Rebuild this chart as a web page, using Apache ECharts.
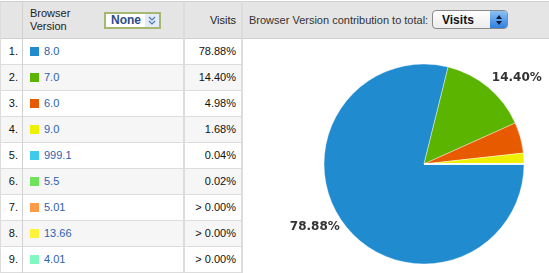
<!DOCTYPE html>
<html>
<head>
<meta charset="utf-8">
<script src="https://cdn.jsdelivr.net/npm/echarts@6/dist/echarts.min.js"></script>
<style>
  html, body { margin: 0; padding: 0; background: #fff; }
  body { width: 549px; height: 273px; position: relative; overflow: hidden;
         font-family: "Liberation Sans", Arial, sans-serif; font-size: 11px; color: #222; }
  .abs { position: absolute; }
  .hline { position: absolute; height: 1px; background: #dcdcdc; }
  .vline { position: absolute; width: 2px; background: #dcdcdc; }
  .cell { position: absolute; line-height: 25px; white-space: nowrap; }
</style>
</head>
<body>
<div id="table"></div>
<div id="pie" class="abs" style="left:245px;top:40px;width:304px;height:233px;"></div>
<script>
// chart data
var versions = ['8.0', '7.0', '6.0', '9.0', '999.1', '5.5', '5.01', '13.66', '4.01'];
var visitShare = [78.88, 14.40, 4.98, 1.68, 0.04, 0.02, 0.001, 0.001, 0.001];
var sliceColors = ['#208bcf', '#5ab400', '#e85a00', '#eef000', '#3ecbea', '#6de25a', '#ff9a46', '#fff23c', '#7ff8c2'];

function pctText(v) {
    return v < 0.005 ? '> 0.00%' : v.toFixed(2) + '%';
}

// table drawn in html around the chart
var html = '';
// header background
html += '<div class="abs" style="left:0;top:1px;width:549px;height:38px;background:#e5e5e5;border-top:1px solid #cfcfcf;border-bottom:1px solid #cfcfcf;box-sizing:border-box;"></div>';
html += '<div class="abs" style="left:30px;top:7px;line-height:13px;color:#222;">Browser<br>Version</div>';
html += '<div class="abs" style="left:104px;top:12px;width:57px;height:17px;border:2px solid #a4b871;box-sizing:border-box;background:#fff;">' +
        '<span class="abs" style="left:5px;top:0;line-height:13px;font-weight:bold;font-size:12px;color:#2a4d8a;">None</span>' +
        '<span class="abs" style="left:39px;top:0;width:14px;height:13px;background:#e3ebf6;">' +
        '<svg width="14" height="13"><polyline points="4,3 7,6 10,3" fill="none" stroke="#4a78b8" stroke-width="1.2"/><polyline points="4,7 7,10 10,7" fill="none" stroke="#4a78b8" stroke-width="1.2"/></svg></span></div>';
html += '<div class="abs" style="right:313px;top:14px;line-height:13px;">Visits</div>';
html += '<div class="abs" style="left:249px;top:14px;line-height:13px;color:#333;">Browser Version contribution to total:</div>';
html += '<div class="abs" style="left:432px;top:10px;width:76px;height:19px;border:1px solid #8a8a8a;border-radius:4px;box-sizing:border-box;background:linear-gradient(#ffffff,#ececec);overflow:hidden;">' +
        '<span class="abs" style="left:9px;top:2px;line-height:14px;font-size:12px;font-weight:bold;color:#111;">Visits</span>' +
        '<span class="abs" style="left:57px;top:0;width:18px;height:17px;background:linear-gradient(#8cc0f4,#2f7fe0);"></span>' +
        '<svg class="abs" style="left:60px;top:2px;" width="12" height="14"><polygon points="6,2 9,6 3,6" fill="#0b1f3d"/><polygon points="6,12 9,8 3,8" fill="#0b1f3d"/></svg></div>';

for (var i = 0; i < versions.length; i++) {
    var rowTop = 39 + i * 26;
    if (i % 2 === 1) {
        html += '<div class="abs" style="left:1px;top:' + rowTop + 'px;width:240px;height:25px;background:#f6f6f6;"></div>';
    }
    html += '<div class="cell" style="left:0;width:18px;text-align:right;top:' + rowTop + 'px;color:#111;">' + (i + 1) + '.</div>';
    html += '<div class="abs" style="left:30px;top:' + (rowTop + 8) + 'px;width:9px;height:9px;background:' + sliceColors[i] + ';"></div>';
    html += '<div class="cell" style="left:44px;top:' + rowTop + 'px;color:#2b62b0;">' + versions[i] + '</div>';
    html += '<div class="cell" style="right:313px;top:' + rowTop + 'px;color:#111;">' + pctText(visitShare[i]) + '</div>';
    html += '<div class="hline" style="left:1px;width:241px;top:' + (rowTop + 25) + 'px;"></div>';
}

// left border and column dividers
html += '<div class="abs" style="left:0;top:1px;width:1px;height:272px;background:#dcdcdc;"></div>';
html += '<div class="abs" style="left:22px;top:1px;width:1px;height:272px;background:#d2d2d2;"></div>';
html += '<div class="vline" style="left:183px;top:1px;height:272px;"></div>';
html += '<div class="vline" style="left:241px;top:1px;height:272px;"></div>';
document.getElementById('table').innerHTML = html;

var pieData = [];
for (var j = 0; j < versions.length; j++) {
    pieData.push({ name: versions[j], value: visitShare[j] });
}

var myChart = echarts.init(document.getElementById('pie'));
myChart.setOption({
    animation: false,
    color: sliceColors,
    series: [{
        type: 'pie',
        center: [179, 124],
        radius: 100,
        startAngle: 0,
        clockwise: true,
        avoidLabelOverlap: false,
        data: pieData,
        itemStyle: { borderColor: '#fff', borderWidth: 0.4 },
        label: {
            position: 'outside',
            distanceToLabelLine: 0,
            fontFamily: 'DejaVu Sans',
            fontSize: 12,
            fontWeight: 'bold',
            color: '#333',
            formatter: function (p) {
                return p.value >= 10 ? pctText(p.value) : '';
            }
        },
        labelLine: { show: false, length: 12, length2: 0 },
        // nudge the two visible labels toward where the original sits them
        labelLayout: function (p) {
            return p.dataIndex === 0 ? { dx: 4, dy: -6 } : { dx: -4, dy: 0 };
        },
        emphasis: { disabled: true }
    }]
});
</script>
</body>
</html>
